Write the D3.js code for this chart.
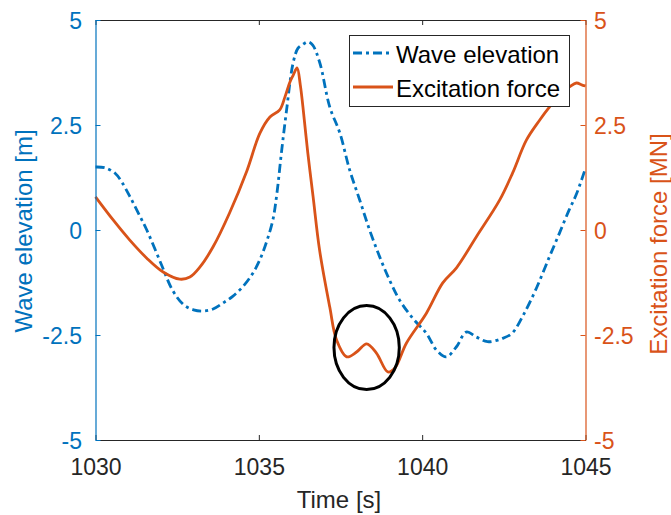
<!DOCTYPE html>
<html>
<head>
<meta charset="utf-8">
<script src="https://cdn.jsdelivr.net/npm/d3@7"></script>
<style>
  html, body { margin: 0; padding: 0; background: #fff; }
  svg { display: block; font-family: "Liberation Sans", Arial, Helvetica, sans-serif; }
</style>
</head>
<body>
<svg id="chart" width="671" height="515"></svg>
<script>
// ---- data ----
const waveTime = [1030.0, 1030.3, 1030.6, 1030.8, 1031.05, 1031.3, 1031.57, 1032.0, 1032.37, 1032.7, 1033.0, 1033.3, 1033.6, 1033.9, 1034.2, 1034.5, 1034.8, 1035.03, 1035.25, 1035.43, 1035.55, 1035.69, 1035.85, 1036.05, 1036.2, 1036.35, 1036.5, 1036.65, 1036.87, 1037.17, 1037.48, 1037.78, 1038.09, 1038.39, 1038.7, 1039.0, 1039.31, 1039.71, 1040.13, 1040.44, 1040.74, 1041.05, 1041.35, 1041.66, 1042.0, 1042.46, 1042.75, 1043.1, 1043.5, 1043.9, 1044.2, 1044.5, 1044.72, 1045.0];
const waveElevation = [1.50, 1.48, 1.35, 1.15, 0.80, 0.42, 0.0, -0.79, -1.45, -1.78, -1.90, -1.93, -1.88, -1.74, -1.58, -1.36, -1.05, -0.71, -0.25, 0.24, 0.85, 1.83, 2.86, 3.98, 4.33, 4.42, 4.48, 4.40, 3.97, 2.93, 2.31, 1.43, 0.71, 0.0, -0.64, -1.19, -1.67, -2.10, -2.46, -2.86, -3.02, -2.78, -2.43, -2.55, -2.66, -2.58, -2.46, -2.02, -1.38, -0.63, -0.08, 0.48, 0.85, 1.47];

const forceTime = [1030.0, 1030.54, 1031.05, 1031.57, 1032.07, 1032.58, 1032.89, 1033.2, 1033.6, 1034.1, 1034.63, 1035.03, 1035.34, 1035.64, 1035.8, 1035.95, 1036.05, 1036.17, 1036.27, 1036.35, 1036.5, 1036.66, 1036.86, 1037.17, 1037.38, 1037.69, 1038.0, 1038.3, 1038.6, 1038.95, 1039.16, 1039.52, 1040.13, 1040.63, 1041.05, 1041.66, 1042.37, 1042.77, 1043.19, 1043.6, 1043.9, 1044.2, 1044.5, 1044.72, 1044.9, 1045.0];
const excitationForce = [0.79, 0.24, -0.24, -0.67, -1.0, -1.17, -1.12, -0.88, -0.40, 0.40, 1.40, 2.30, 2.69, 2.86, 3.17, 3.52, 3.68, 3.86, 3.45, 2.93, 1.83, 0.80, -0.48, -1.83, -2.62, -3.02, -2.90, -2.71, -2.93, -3.38, -3.29, -2.69, -1.98, -1.26, -0.90, -0.16, 0.71, 1.36, 2.14, 2.62, 2.93, 3.21, 3.40, 3.50, 3.45, 3.43];

const xTicks = [1030, 1035, 1040, 1045];
const yTicks = [-5, -2.5, 0, 2.5, 5];
const yTickLabels = ["-5", "-2.5", "0", "2.5", "5"];
const seriesNames = ["Wave elevation", "Excitation force"];
// highlighted region (ellipse centre and radii in data units)
const highlightCenter = [1038.3, -2.8];
const highlightRadius = [1.0, 1.0];

// ---- setup ----
const BLUE = "#0072BD", ORANGE = "#D95319", DARK = "#262626";
const svg = d3.select("#chart");
const L = 95.5, R = 585.5, T = 20, B = 440;
const x = d3.scaleLinear().domain([1030, 1045]).range([L, R]);
const yL = d3.scaleLinear().domain([-5, 5]).range([B, T]);
const yR = d3.scaleLinear().domain([-5, 5]).range([B, T]);

// ---- lines ----
const waveData = waveTime.map((t, i) => [t, waveElevation[i]]);
const forceData = forceTime.map((t, i) => [t, excitationForce[i]]);

const lineL = d3.line().x(d => x(d[0])).y(d => yL(d[1])).curve(d3.curveCatmullRom.alpha(0.5));
const lineR = d3.line().x(d => x(d[0])).y(d => yR(d[1])).curve(d3.curveCatmullRom.alpha(0.5));

svg.append("path").datum(waveData).attr("d", lineL)
  .attr("fill", "none").attr("stroke", BLUE).attr("stroke-width", 2.8)
  .attr("stroke-dasharray", "9,4,3,4");
svg.append("path").datum(forceData).attr("d", lineR)
  .attr("fill", "none").attr("stroke", ORANGE).attr("stroke-width", 2.8);

// highlight ellipse
svg.append("ellipse")
  .attr("cx", x(highlightCenter[0])).attr("cy", yR(highlightCenter[1]))
  .attr("rx", x(highlightCenter[0] + highlightRadius[0]) - x(highlightCenter[0]))
  .attr("ry", yR(highlightCenter[1]) - yR(highlightCenter[1] + highlightRadius[1]))
  .attr("fill", "none").attr("stroke", "#000").attr("stroke-width", 3);

// ---- axes ----
const fontTick = 23;
const xb = svg.append("g").attr("transform", `translate(0,${B})`)
  .call(d3.axisBottom(x).tickValues(xTicks).tickFormat(d3.format("d")).tickSize(-5).tickSizeOuter(0));
xb.select(".domain").attr("stroke", DARK).attr("stroke-width", 1.2);
xb.selectAll(".tick line").attr("stroke", DARK);
xb.selectAll(".tick text").attr("fill", DARK).attr("font-size", fontTick)
  .attr("y", 35).attr("dy", null).attr("font-family", "Liberation Sans, Arial, sans-serif");

const xt = svg.append("g").attr("transform", `translate(0,${T})`)
  .call(d3.axisTop(x).tickValues(xTicks).tickFormat("").tickSize(-5).tickSizeOuter(0));
xt.select(".domain").attr("stroke", DARK).attr("stroke-width", 1.2);
xt.selectAll(".tick line").attr("stroke", DARK);

const yl = svg.append("g").attr("transform", `translate(${L},0)`)
  .call(d3.axisLeft(yL).tickValues(yTicks).tickFormat((d, i) => yTickLabels[i]).tickSize(-5).tickSizeOuter(0));
yl.select(".domain").attr("stroke", BLUE).attr("stroke-width", 1.2);
yl.selectAll(".tick line").attr("stroke", BLUE);
yl.selectAll(".tick text").attr("fill", BLUE).attr("font-size", fontTick)
  .attr("x", -13.5).attr("dy", "0.38em").attr("font-family", "Liberation Sans, Arial, sans-serif");

const yr = svg.append("g").attr("transform", `translate(${R},0)`)
  .call(d3.axisRight(yR).tickValues(yTicks).tickFormat((d, i) => yTickLabels[i]).tickSize(-5).tickSizeOuter(0));
yr.select(".domain").attr("stroke", ORANGE).attr("stroke-width", 1.2);
yr.selectAll(".tick line").attr("stroke", ORANGE);
yr.selectAll(".tick text").attr("fill", ORANGE).attr("font-size", fontTick)
  .attr("x", 8.5).attr("dy", "0.38em").attr("font-family", "Liberation Sans, Arial, sans-serif");

// ---- axis labels ----
svg.append("text").attr("x", 339).attr("y", 508).attr("text-anchor", "middle")
  .attr("font-size", 24).attr("fill", DARK).text("Time [s]");
svg.append("text").attr("transform", "translate(32,231) rotate(-90)").attr("text-anchor", "middle")
  .attr("font-size", 24).attr("fill", BLUE).text("Wave elevation [m]");
svg.append("text").attr("transform", "translate(667,244) rotate(-90)").attr("text-anchor", "middle")
  .attr("font-size", 24).attr("fill", ORANGE).text("Excitation force [MN]");

// ---- legend ----
const lg = svg.append("g");
lg.append("rect").attr("x", 349.5).attr("y", 35.5).attr("width", 220).attr("height", 71)
  .attr("fill", "#fff").attr("stroke", DARK).attr("stroke-width", 1);
const legendItems = [
  { name: seriesNames[0], color: BLUE, dash: "9,4,3,4", y: 53, base: 63 },
  { name: seriesNames[1], color: ORANGE, dash: null, y: 87, base: 96.5 }
];
legendItems.forEach(it => {
  lg.append("line").attr("x1", 353).attr("x2", 393).attr("y1", it.y).attr("y2", it.y)
    .attr("stroke", it.color).attr("stroke-width", 2.8).attr("stroke-dasharray", it.dash);
  lg.append("text").attr("x", 396).attr("y", it.base).attr("font-size", 24).attr("fill", "#000").text(it.name);
});
</script>
</body>
</html>
